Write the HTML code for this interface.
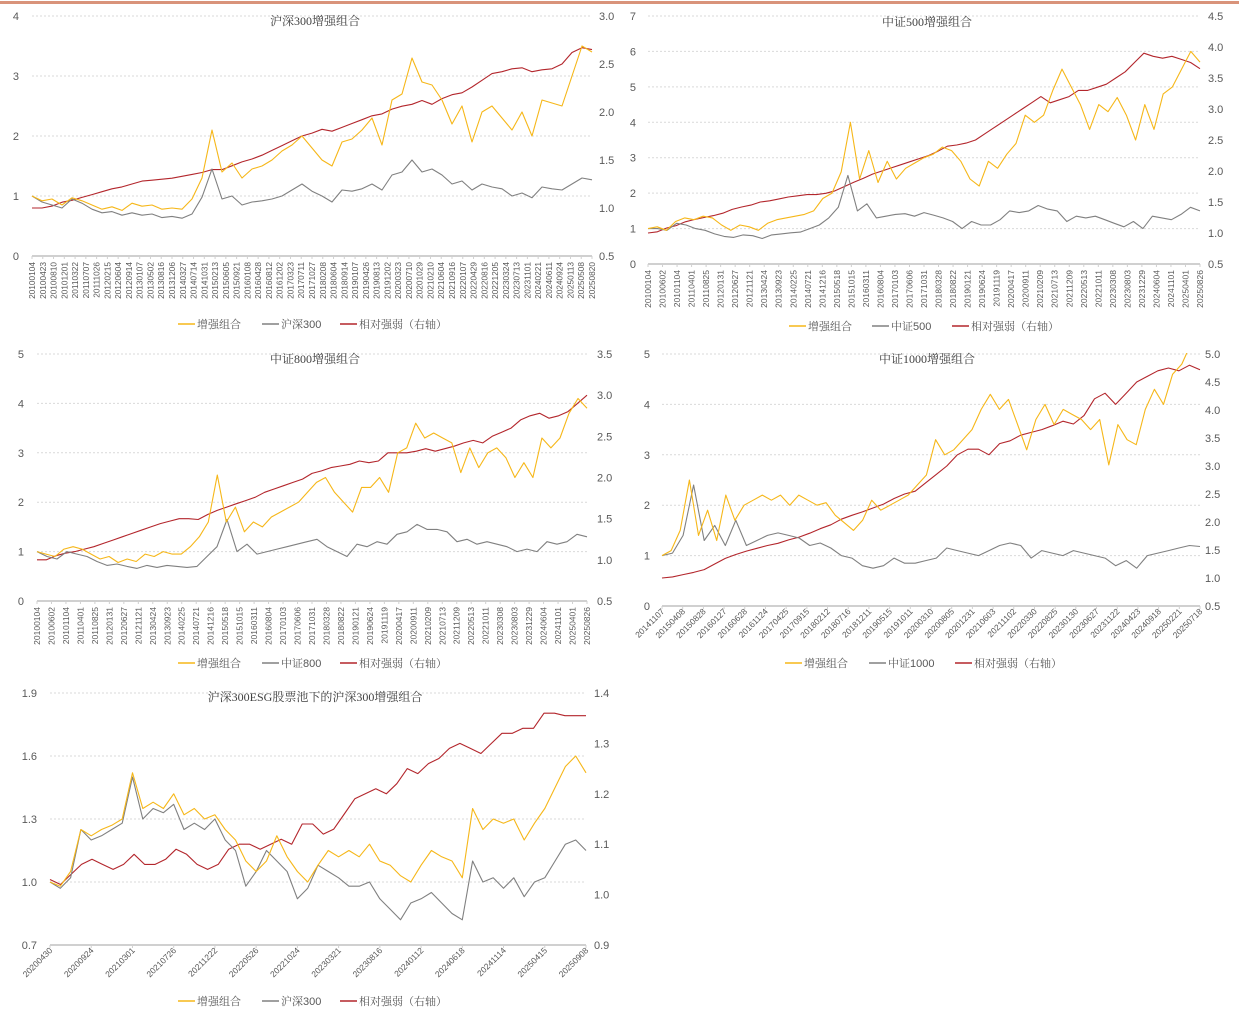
<!DOCTYPE html>
<html><head><meta charset="utf-8">
<style>
html,body{margin:0;padding:0;background:#fff;width:1239px;height:1017px;overflow:hidden}
svg{display:block;font-family:"Liberation Sans","Noto Sans CJK SC",sans-serif}
</style></head>
<body>
<svg id="root" width="1239" height="1017" viewBox="0 0 1239 1017" xmlns="http://www.w3.org/2000/svg">
<rect x="0" y="0" width="1239" height="1017" fill="#fff"/>
<rect x="0" y="1" width="1239" height="3" fill="#d9937a"/>
</svg>
<script>
// ---------- DATA ----------
const ticksA = ["20100104","20100423","20100810","20101201","20110322","20110707","20111026","20120215","20120604","20120914","20130107","20130502","20130816","20131206","20140327","20140714","20141031","20150213","20150605","20150921","20160108","20160428","20160812","20161202","20170323","20170711","20171027","20180208","20180604","20180914","20190107","20190426","20190813","20191202","20200323","20200710","20201029","20210210","20210604","20210916","20220107","20220429","20220816","20221205","20230324","20230713","20231101","20240221","20240611","20240924","20250113","20250508","20250820"];
const ticksB = ["20100104","20100602","20101104","20110401","20110825","20120131","20120627","20121121","20130424","20130923","20140225","20140721","20141216","20150518","20151015","20160311","20160804","20170103","20170606","20171031","20180328","20180822","20190121","20190624","20191119","20200417","20200911","20210209","20210713","20211209","20220513","20221011","20230308","20230803","20231229","20240604","20241101","20250401","20250826"];
const ticksC = ["20141107","20150408","20150828","20160127","20160628","20161124","20170425","20170915","20180212","20180716","20181211","20190515","20191011","20200310","20200805","20201231","20210603","20211102","20220330","20220825","20230130","20230627","20231122","20240423","20240918","20250221","20250718"];
const ticksD = ["20200430","20200924","20210301","20210726","20211222","20220526","20221024","20230321","20230816","20240112","20240618","20241114","20250415","20250908"];

const leftTicks1 = [0,1,2,3,4];           const rightTicks1 = ["0.5","1.0","1.5","2.0","2.5","3.0"];
const leftTicks2 = [0,1,2,3,4,5,6,7];     const rightTicks2 = ["0.5","1.0","1.5","2.0","2.5","3.0","3.5","4.0","4.5"];
const leftTicks3 = [0,1,2,3,4,5];         const rightTicks3 = ["0.5","1.0","1.5","2.0","2.5","3.0","3.5"];
const leftTicks4 = [0,1,2,3,4,5];         const rightTicks4 = ["0.5","1.0","1.5","2.0","2.5","3.0","3.5","4.0","4.5","5.0"];
const leftTicks5 = ["0.7","1.0","1.3","1.6","1.9"]; const rightTicks5 = ["0.9","1.0","1.1","1.2","1.3","1.4"];

const enh1 = [1.0,0.92,0.95,0.85,0.97,0.92,0.85,0.78,0.82,0.76,0.88,0.83,0.85,0.78,0.8,0.78,0.95,1.3,2.1,1.4,1.55,1.3,1.45,1.5,1.6,1.75,1.85,2.0,1.8,1.6,1.5,1.9,1.95,2.1,2.3,1.85,2.6,2.7,3.3,2.9,2.85,2.6,2.2,2.5,1.9,2.4,2.5,2.3,2.1,2.4,2.0,2.6,2.55,2.5,3.0,3.5,3.4];
const idx1 = [1.0,0.9,0.85,0.8,0.95,0.88,0.78,0.72,0.74,0.68,0.72,0.68,0.7,0.64,0.66,0.63,0.7,0.98,1.45,0.95,1.0,0.85,0.9,0.92,0.95,1.0,1.1,1.2,1.08,1.0,0.9,1.1,1.08,1.12,1.2,1.1,1.35,1.4,1.6,1.4,1.45,1.35,1.2,1.25,1.1,1.2,1.15,1.12,1.0,1.05,0.97,1.15,1.12,1.1,1.2,1.3,1.27];
const rel1 = [1.0,1.0,1.02,1.06,1.08,1.11,1.14,1.17,1.2,1.22,1.25,1.28,1.29,1.3,1.31,1.33,1.35,1.37,1.4,1.4,1.44,1.48,1.51,1.55,1.6,1.65,1.7,1.75,1.78,1.82,1.8,1.84,1.88,1.92,1.96,1.98,2.03,2.06,2.08,2.12,2.08,2.14,2.18,2.2,2.26,2.33,2.4,2.42,2.45,2.46,2.42,2.44,2.45,2.5,2.62,2.67,2.65];

const enh2 = [1.0,1.05,0.95,1.2,1.3,1.25,1.35,1.3,1.1,0.95,1.1,1.05,0.95,1.15,1.25,1.3,1.35,1.4,1.5,1.85,2.0,2.6,4.0,2.4,3.2,2.3,2.9,2.4,2.7,2.85,3.0,3.1,3.3,3.2,2.9,2.4,2.2,2.9,2.7,3.1,3.4,4.2,4.0,4.2,4.9,5.5,5.0,4.5,3.8,4.5,4.3,4.7,4.2,3.5,4.5,3.8,4.8,5.0,5.5,6.0,5.7];
const idx2 = [1.0,1.0,0.95,1.15,1.1,1.0,0.95,0.85,0.78,0.75,0.82,0.8,0.72,0.82,0.85,0.88,0.9,1.0,1.1,1.3,1.6,2.5,1.5,1.7,1.3,1.35,1.4,1.42,1.35,1.45,1.38,1.3,1.2,1.0,1.2,1.1,1.1,1.25,1.5,1.45,1.5,1.65,1.55,1.5,1.2,1.35,1.3,1.35,1.25,1.15,1.05,1.2,1.0,1.35,1.3,1.25,1.4,1.6,1.5];
const rel2 = [1.0,1.02,1.08,1.12,1.18,1.22,1.25,1.28,1.32,1.38,1.42,1.45,1.5,1.52,1.55,1.58,1.6,1.62,1.62,1.64,1.68,1.75,1.82,1.88,1.95,2.0,2.05,2.1,2.15,2.2,2.25,2.32,2.4,2.42,2.45,2.5,2.6,2.7,2.8,2.9,3.0,3.1,3.2,3.1,3.15,3.2,3.3,3.3,3.35,3.4,3.5,3.6,3.75,3.9,3.85,3.82,3.85,3.8,3.75,3.65];

const enh3 = [1.0,0.95,0.9,1.05,1.1,1.05,0.95,0.85,0.9,0.78,0.85,0.8,0.95,0.9,1.0,0.95,0.95,1.1,1.3,1.6,2.55,1.6,1.9,1.4,1.6,1.5,1.7,1.8,1.9,2.0,2.2,2.4,2.5,2.2,2.0,1.8,2.3,2.3,2.5,2.2,3.0,3.1,3.6,3.3,3.4,3.3,3.2,2.6,3.1,2.7,3.0,3.1,2.9,2.5,2.8,2.5,3.3,3.1,3.3,3.8,4.1,3.9];
const idx3 = [1.0,0.9,0.85,1.0,0.95,0.9,0.8,0.72,0.75,0.7,0.66,0.72,0.68,0.72,0.7,0.68,0.7,0.9,1.1,1.65,1.0,1.15,0.95,1.0,1.05,1.1,1.15,1.2,1.25,1.1,1.0,0.9,1.15,1.1,1.2,1.15,1.35,1.4,1.55,1.45,1.45,1.4,1.2,1.25,1.15,1.2,1.15,1.1,1.0,1.05,1.0,1.2,1.15,1.2,1.35,1.3];
const rel3 = [1.0,1.0,1.05,1.08,1.1,1.13,1.16,1.2,1.24,1.28,1.32,1.36,1.4,1.44,1.47,1.5,1.5,1.49,1.55,1.6,1.64,1.68,1.72,1.76,1.82,1.86,1.9,1.94,1.98,2.05,2.08,2.12,2.14,2.16,2.2,2.18,2.2,2.3,2.3,2.3,2.32,2.35,2.32,2.35,2.38,2.42,2.45,2.42,2.5,2.55,2.6,2.7,2.75,2.78,2.72,2.75,2.8,2.9,3.0];

const enh4 = [1.0,1.1,1.5,2.5,1.4,1.9,1.3,2.2,1.7,2.0,2.1,2.2,2.1,2.2,2.0,2.2,2.1,2.0,2.05,1.8,1.65,1.5,1.7,2.1,1.9,2.0,2.1,2.2,2.4,2.6,3.3,3.0,3.1,3.3,3.5,3.9,4.2,3.9,4.1,3.6,3.1,3.7,4.0,3.6,3.9,3.8,3.7,3.5,3.7,2.8,3.6,3.3,3.2,3.9,4.3,4.0,4.6,4.8,5.2,5.6];
const idx4 = [1.0,1.05,1.4,2.4,1.3,1.6,1.2,1.7,1.2,1.3,1.4,1.45,1.4,1.35,1.2,1.25,1.15,1.0,0.95,0.8,0.75,0.8,0.95,0.85,0.85,0.9,0.95,1.15,1.1,1.05,1.0,1.1,1.2,1.25,1.2,0.95,1.1,1.05,1.0,1.1,1.05,1.0,0.95,0.8,0.9,0.75,1.0,1.05,1.1,1.15,1.2,1.18];
const rel4 = [1.0,1.02,1.06,1.1,1.15,1.25,1.35,1.42,1.48,1.53,1.58,1.62,1.68,1.73,1.8,1.88,1.95,2.05,2.12,2.18,2.25,2.32,2.42,2.5,2.55,2.7,2.85,3.0,3.2,3.3,3.3,3.2,3.4,3.45,3.55,3.6,3.65,3.72,3.8,3.75,3.9,4.2,4.3,4.1,4.3,4.5,4.6,4.7,4.75,4.7,4.8,4.72];

const enh5 = [1.0,0.98,1.05,1.25,1.22,1.25,1.27,1.3,1.52,1.35,1.38,1.35,1.42,1.32,1.35,1.3,1.32,1.25,1.2,1.1,1.05,1.1,1.22,1.12,1.05,1.0,1.08,1.15,1.12,1.15,1.12,1.18,1.1,1.08,1.03,1.0,1.08,1.15,1.12,1.1,1.02,1.35,1.25,1.3,1.28,1.3,1.2,1.28,1.35,1.45,1.55,1.6,1.52];
const idx5 = [1.0,0.97,1.02,1.25,1.2,1.22,1.25,1.28,1.5,1.3,1.35,1.33,1.37,1.25,1.28,1.25,1.3,1.2,1.15,0.98,1.05,1.15,1.1,1.05,0.92,0.97,1.08,1.05,1.02,0.98,0.98,1.0,0.92,0.87,0.82,0.9,0.92,0.95,0.9,0.85,0.82,1.1,1.0,1.02,0.97,1.02,0.93,1.0,1.02,1.1,1.18,1.2,1.15];
const rel5 = [1.03,1.02,1.04,1.06,1.07,1.06,1.05,1.06,1.08,1.06,1.06,1.07,1.09,1.08,1.06,1.05,1.06,1.09,1.1,1.1,1.09,1.1,1.11,1.1,1.14,1.14,1.12,1.13,1.16,1.19,1.2,1.21,1.2,1.22,1.25,1.24,1.26,1.27,1.29,1.3,1.29,1.28,1.3,1.32,1.32,1.33,1.33,1.36,1.36,1.355,1.355,1.355];

// ---------- RENDER ----------
const NS = "http://www.w3.org/2000/svg";
const root = document.getElementById("root");
const YEL = "#f6b719", GRY = "#808080", RED = "#b3262c";
function mk(tag, attrs, parent){ const e=document.createElementNS(NS,tag); for(const k in attrs) e.setAttribute(k,attrs[k]); (parent||root).appendChild(e); return e; }

function drawChart(c){
  const g = mk("g",{});
  
  
  const L0=+c.lmin, L1=+c.lmax, R0=+c.rmin, R1=+c.rmax;
  const yl = v => c.yb + (v-L0)/(L1-L0)*(c.yt-c.yb);
  const yr = v => c.yb + (v-R0)/(R1-R0)*(c.yt-c.yb);
  const xi = (i,n) => c.x0 + i/(n-1)*(c.x1-c.x0);
  const clip = mk("clipPath",{id:"clip"+c.id},g);
  mk("rect",{x:c.x0-2,y:c.yt-1,width:c.x1-c.x0+4,height:c.yb-c.yt+1},clip);
  // grid + left labels
  c.lt.forEach(v=>{
    const y=yl(+v);
    if(+v!==L0){ const gl=mk("line",{x1:c.x0,x2:c.x1,y1:y,y2:y,stroke:"#d9d9d9","stroke-width":1,"stroke-dasharray":"2,2"},g);
        }
    const t=mk("text",{x:c.lx,y:y+4,"text-anchor":"end","font-size":11,fill:"#595959"},g); t.textContent=v;
     
  });
  c.rt.forEach(v=>{
    const t=mk("text",{x:c.rx,y:yr(+v)+4,"text-anchor":"start","font-size":11,fill:"#595959"},g); t.textContent=v;
     
  });
  const ax=mk("line",{x1:c.x0,x2:c.x1,y1:c.yb,y2:c.yb,stroke:"#d0d0d0","stroke-width":2},g);
   
  // x tick labels
  c.xt.forEach((s,i)=>{
    const x=xi(i,c.xt.length);
    mk("line",{x1:x,x2:x,y1:c.yb,y2:c.yb+3,stroke:"#d0d0d0"},g);
    const t=mk("text",{"font-size":c.xfs,fill:"#595959","text-anchor":"end"},g);
    t.setAttribute("transform",`translate(${x+3},${c.yb+6}) rotate(${c.rot})`);
    t.textContent=s;
     
  });
  // series
  const series=[[c.rel,yr,RED,"relative-strength-line"],[c.idx,yl,GRY,"index-line"],[c.enh,yl,YEL,"enhanced-portfolio-line"]];
  series.forEach(([arr,f,col,nm])=>{
    const d=arr.map((v,i)=>(i?"L":"M")+xi(i,arr.length).toFixed(1)+","+f(v).toFixed(1)).join("");
    const p=mk("path",{d,fill:"none",stroke:col,"stroke-width":1.1,"stroke-linejoin":"round","clip-path":`url(#clip${c.id})`},g);
    
    
  });
  // title
  const tt=mk("text",{x:c.tx,y:c.ty,"text-anchor":"middle","font-size":12,fill:"#404040","font-family":"'Liberation Serif','Noto Serif CJK SC',serif"},g);
  tt.textContent=c.title;
   
  // legend
  const labs=["增强组合",c.idxName,"相对强弱（右轴）"], cols=[YEL,GRY,RED];
  labs.forEach((lab,i)=>{
    const lx=c.lg[i];
    const le=mk("g",{},g);
     
    mk("line",{x1:lx,x2:lx+17,y1:c.ly,y2:c.ly,stroke:cols[i],"stroke-width":1.5},le);
    const t=mk("text",{x:lx+19,y:c.ly+4,"font-size":11,fill:"#595959","font-family":"'Liberation Sans','Noto Serif CJK SC',serif"},le);
    t.textContent=lab;
  });
}

drawChart({id:1,name:"hs300-enhanced-chart",title:"沪深300增强组合",idxName:"沪深300",x0:32,x1:592,yt:16,yb:256,lmin:0,lmax:4,rmin:0.5,rmax:3.0,lt:leftTicks1,rt:rightTicks1,lx:19,rx:599,xt:ticksA,xfs:8.3,rot:-90,tx:315,ty:25,ly:324,lg:[178,262,340],enh:enh1,idx:idx1,rel:rel1});
drawChart({id:2,name:"csi500-enhanced-chart",title:"中证500增强组合",idxName:"中证500",x0:648,x1:1200,yt:16,yb:264,lmin:0,lmax:7,rmin:0.5,rmax:4.5,lt:leftTicks2,rt:rightTicks2,lx:636,rx:1208,xt:ticksB,xfs:8.5,rot:-90,tx:927,ty:26,ly:326,lg:[789,872,952],enh:enh2,idx:idx2,rel:rel2});
drawChart({id:3,name:"csi800-enhanced-chart",title:"中证800增强组合",idxName:"中证800",x0:37,x1:587,yt:354,yb:601,lmin:0,lmax:5,rmin:0.5,rmax:3.5,lt:leftTicks3,rt:rightTicks3,lx:24,rx:597,xt:ticksB,xfs:8.5,rot:-90,tx:315,ty:363,ly:663,lg:[178,262,340],enh:enh3,idx:idx3,rel:rel3});
drawChart({id:4,name:"csi1000-enhanced-chart",title:"中证1000增强组合",idxName:"中证1000",x0:662,x1:1200,yt:354,yb:606,lmin:0,lmax:5,rmin:0.5,rmax:5.0,lt:leftTicks4,rt:rightTicks4,lx:650,rx:1205,xt:ticksC,xfs:8.5,rot:-45,tx:927,ty:363,ly:663,lg:[785,869,955],enh:enh4,idx:idx4,rel:rel4});
drawChart({id:5,name:"esg-hs300-enhanced-chart",title:"沪深300ESG股票池下的沪深300增强组合",idxName:"沪深300",x0:50,x1:586,yt:693,yb:945,lmin:0.7,lmax:1.9,rmin:0.9,rmax:1.4,lt:leftTicks5,rt:rightTicks5,lx:37,rx:594,xt:ticksD,xfs:8.5,rot:-45,tx:315,ty:701,ly:1001,lg:[178,262,340],enh:enh5,idx:idx5,rel:rel5});
</script>
</body></html>
